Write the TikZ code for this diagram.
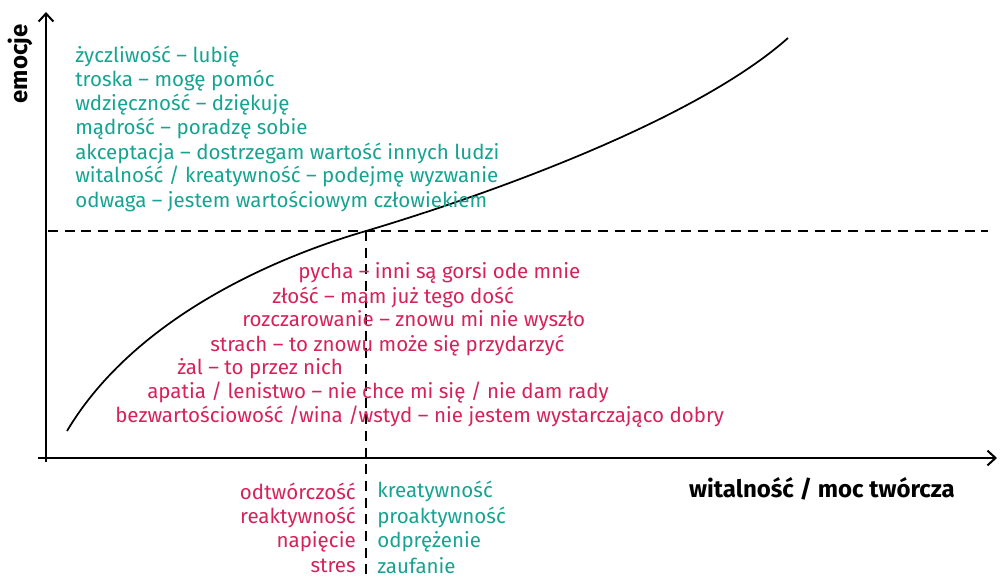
\documentclass[tikz,border=0pt]{standalone}
\usepackage{fontspec}
\usetikzlibrary{arrows.meta}
\setmainfont{Fira Sans}
\definecolor{zielony}{RGB}{22,163,145}
\definecolor{rozowy}{RGB}{212,34,90}
\begin{document}
\begin{tikzpicture}[x=0.75pt,y=-0.75pt,
  dobre/.style={text=zielony,anchor=west,inner sep=0pt,font=\fontsize{15.4}{17}\selectfont},
  zle/.style={text=rozowy,anchor=west,inner sep=0pt,font=\fontsize{15.4}{17}\selectfont},
  os/.style={line width=1.5pt,-{Straight Barb[length=6pt,width=11pt]}},
  kreski/.style={line width=1.3pt,dash pattern=on 7.5pt off 5pt}]
 \useasboundingbox (0,0) rectangle (1000,579);
 \coordinate (O) at (46,458);
 \coordinate (ygora) at (46,12);
 \coordinate (xkoniec) at (997,458);
 \coordinate (pkt) at (366,231);
 \draw[os] (46,462) -- (ygora);
 \draw[os] (38,458) -- (xkoniec);
 \node[rotate=90,inner sep=0pt,font=\fontsize{18}{20}\selectfont\bfseries] (emocje) at (20,64) {emocje};
 \node[anchor=east,inner sep=0pt,font=\fontsize{18}{20}\selectfont\bfseries] (witalnosc) at (955,489) {witalność / moc twórcza};
 \draw[kreski] (48,231) -- (988,231);
 \draw[kreski] (pkt) -- (366,579);
 \draw[line width=1.3pt] (67,431) .. controls (130,325) and (260,262) .. (pkt)
   .. controls (470,200) and (690,125) .. (788,38);
 \node[dobre] (d1) at (75,57) {życzliwość – lubię};
 \node[dobre] (d2) at (75,81) {troska – mogę pomóc};
 \node[dobre] (d3) at (75,105) {wdzięczność – dziękuję};
 \node[dobre] (d4) at (75,129) {mądrość – poradzę sobie};
 \node[dobre] (d5) at (75,153) {akceptacja – dostrzegam wartość innych ludzi};
 \node[dobre] (d6) at (75,177) {witalność / kreatywność – podejmę wyzwanie};
 \node[dobre] (d7) at (75,201) {odwaga – jestem wartościowym człowiekiem};
 \node[zle] (z1) at (298,273) {pycha – inni są gorsi ode mnie};
 \node[zle] (z2) at (272,297) {złość – mam już tego dość};
 \node[zle] (z3) at (242,321) {rozczarowanie – znowu mi nie wyszło};
 \node[zle] (z4) at (210,346) {strach – to znowu może się przydarzyć};
 \node[zle] (z5) at (177,369) {żal – to przez nich};
 \node[zle] (z6) at (147,393) {apatia / lenistwo – nie chce mi się / nie dam rady};
 \node[zle] (z7) at (115,417) {bezwartościowość /wina /wstyd – nie jestem wystarczająco dobry};
 \node[zle,anchor=east] (l1) at (356,491) {odtwórczość};
 \node[zle,anchor=east] (l2) at (356,517) {reaktywność};
 \node[zle,anchor=east] (l3) at (356,542) {napięcie};
 \node[zle,anchor=east] (l4) at (356,566) {stres};
 \node[dobre] (p1) at (377,491) {kreatywność};
 \node[dobre] (p2) at (377,517) {proaktywność};
 \node[dobre] (p3) at (377,542) {odprężenie};
 \node[dobre] (p4) at (377,566) {zaufanie};
\end{tikzpicture}
\end{document}
